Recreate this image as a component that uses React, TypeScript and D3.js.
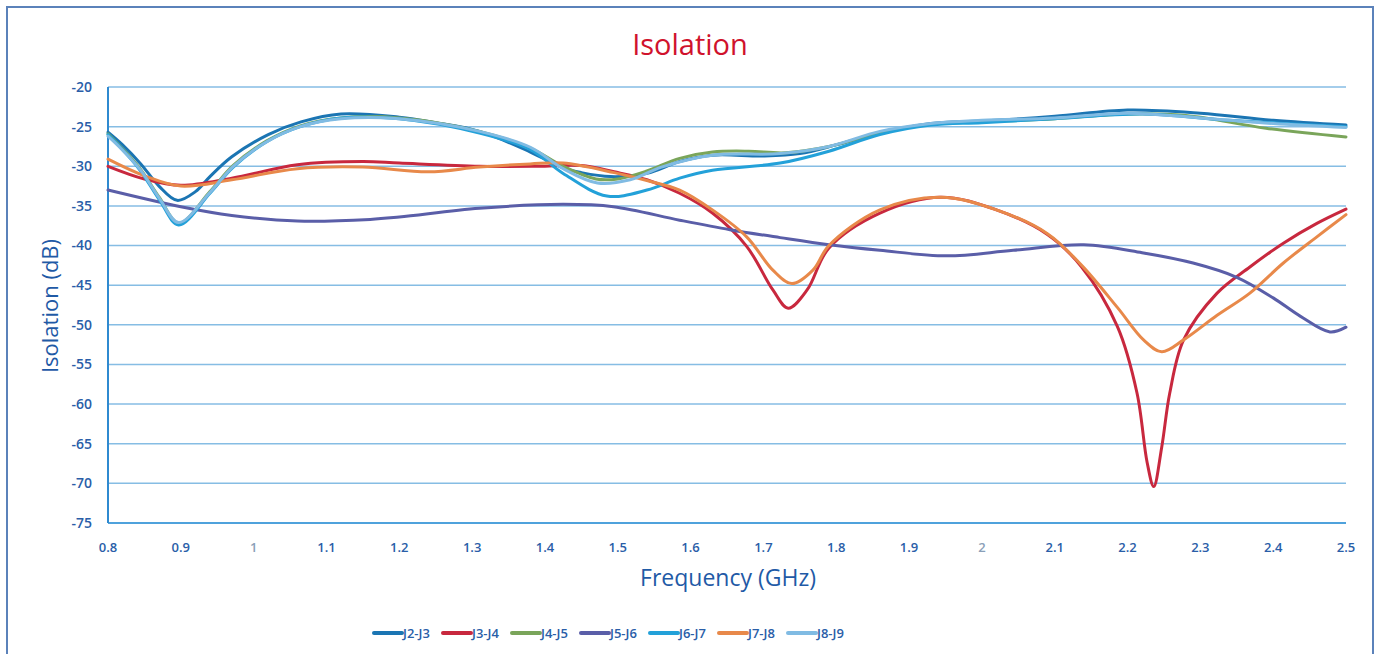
import React, { useEffect } from "react";
import * as d3 from "d3";

type Pt = [number, number];

const seriesNames = ["J2-J3", "J3-J4", "J4-J5", "J5-J6", "J6-J7", "J7-J8", "J8-J9"];
const seriesColors = ["#1b75b3", "#c8283e", "#7aa55a", "#5a5ea8", "#23a1d9", "#e8894a", "#80bbe3"];

const xTicks = [0.8, 0.9, 1, 1.1, 1.2, 1.3, 1.4, 1.5, 1.6, 1.7, 1.8, 1.9, 2, 2.1, 2.2, 2.3, 2.4, 2.5];
const yTicks = [-20, -25, -30, -35, -40, -45, -50, -55, -60, -65, -70, -75];

const J2J3: Pt[] = [
  [0.8, -25.7], [0.82, -27.3], [0.845, -29.7], [0.87, -32.5], [0.895, -34.3], [0.92, -33.2],
  [0.94, -31.3], [0.97, -28.8], [1.02, -26.0], [1.065, -24.4], [1.12, -23.4], [1.2, -23.8],
  [1.25, -24.5], [1.31, -25.6], [1.38, -28.2], [1.425, -30.2], [1.45, -30.8], [1.49, -31.3],
  [1.54, -30.9], [1.585, -29.4], [1.63, -28.6], [1.7, -28.7], [1.75, -28.4], [1.8, -27.3],
  [1.86, -25.8], [1.93, -24.6], [2.0, -24.3], [2.1, -23.7], [2.2, -22.9], [2.3, -23.3],
  [2.4, -24.2], [2.5, -24.8],
];
const J3J4: Pt[] = [
  [0.8, -30.0], [0.85, -31.6], [0.9, -32.4], [0.97, -31.5], [1.06, -29.8], [1.15, -29.4],
  [1.2, -29.6], [1.31, -30.0], [1.39, -30.0], [1.45, -29.9], [1.495, -30.7], [1.54, -31.7],
  [1.585, -33.4], [1.63, -35.9], [1.677, -40.1], [1.713, -45.6], [1.734, -47.9], [1.76, -45.6],
  [1.79, -40.3], [1.86, -35.9], [1.943, -33.9], [2.02, -35.5], [2.09, -38.6], [2.137, -42.7],
  [2.186, -50.2], [2.213, -58.6], [2.227, -67.4], [2.236, -70.4], [2.247, -65.4], [2.258, -58.6],
  [2.277, -51.9], [2.323, -46.0], [2.368, -42.7], [2.414, -39.7], [2.46, -37.2], [2.5, -35.4],
];
const J4J5: Pt[] = [
  [0.8, -25.9], [0.816, -27.4], [0.844, -30.3], [0.871, -34.0], [0.897, -37.2], [0.94, -33.2],
  [0.972, -29.9], [1.018, -26.8], [1.064, -24.9], [1.12, -23.9], [1.2, -23.9], [1.31, -25.6],
  [1.38, -27.7], [1.425, -30.0], [1.47, -31.6], [1.5, -31.6], [1.54, -30.6], [1.585, -29.0],
  [1.63, -28.2], [1.68, -28.1], [1.73, -28.3], [1.79, -27.5], [1.86, -25.8], [1.93, -24.7],
  [2.0, -24.4], [2.1, -24.0], [2.2, -23.4], [2.28, -23.6], [2.39, -25.2], [2.5, -26.3],
];
const J5J6: Pt[] = [
  [0.8, -33.0], [0.9, -35.1], [0.97, -36.2], [1.06, -36.9], [1.16, -36.7], [1.2, -36.4],
  [1.31, -35.3], [1.425, -34.8], [1.494, -35.1], [1.585, -36.8], [1.654, -38.0], [1.723, -39.0],
  [1.79, -39.9], [1.86, -40.6], [1.952, -41.3], [2.043, -40.6], [2.14, -39.9], [2.22, -40.9],
  [2.29, -42.2], [2.35, -44.0], [2.4, -46.6], [2.437, -48.9], [2.478, -50.9], [2.5, -50.3],
];
const J6J7: Pt[] = [
  [0.8, -26.0], [0.816, -27.5], [0.844, -30.5], [0.871, -34.3], [0.897, -37.4], [0.94, -33.4],
  [0.972, -30.1], [1.018, -26.9], [1.064, -25.0], [1.12, -23.9], [1.2, -24.0], [1.31, -25.8],
  [1.38, -27.9], [1.425, -30.9], [1.485, -33.75], [1.54, -33.0], [1.585, -31.5], [1.63, -30.5],
  [1.723, -29.6], [1.79, -28.1], [1.86, -26.0], [1.93, -24.8], [2.0, -24.5], [2.1, -24.0],
  [2.22, -23.4], [2.34, -24.2], [2.5, -25.0],
];
const J7J8: Pt[] = [
  [0.8, -29.1], [0.85, -31.2], [0.9, -32.5], [0.97, -31.7], [1.06, -30.3], [1.15, -30.1],
  [1.24, -30.7], [1.31, -30.1], [1.38, -29.7], [1.425, -29.6], [1.495, -30.8], [1.54, -31.8],
  [1.585, -33.0], [1.63, -35.5], [1.677, -38.9], [1.713, -43.1], [1.739, -44.8], [1.768, -43.1],
  [1.79, -40.0], [1.86, -35.5], [1.943, -33.9], [2.02, -35.5], [2.09, -38.5], [2.137, -42.5],
  [2.186, -47.8], [2.222, -51.9], [2.247, -53.4], [2.277, -51.9], [2.323, -48.8], [2.368, -46.0],
  [2.414, -42.2], [2.46, -38.9], [2.5, -36.1],
];
const J8J9: Pt[] = [
  [0.8, -26.2], [0.816, -27.6], [0.844, -30.4], [0.871, -34.1], [0.897, -37.1], [0.94, -33.3],
  [0.972, -30.0], [1.018, -26.9], [1.064, -25.0], [1.12, -24.0], [1.2, -24.0], [1.31, -25.6],
  [1.38, -27.6], [1.425, -30.3], [1.472, -32.1], [1.517, -31.7], [1.56, -30.1], [1.63, -28.6],
  [1.723, -28.4], [1.79, -27.5], [1.86, -25.6], [1.93, -24.6], [2.0, -24.2], [2.1, -23.9],
  [2.2, -23.3], [2.3, -23.9], [2.4, -24.6], [2.5, -25.1],
];

const seriesData = [J2J3, J3J4, J4J5, J5J6, J6J7, J7J8, J8J9];

const W = 1379;
const H = 654;
const FONT = "'Open Sans', 'Noto Sans', sans-serif";
const BLUE_TEXT = "#2a5ea8";

export default function App() {
  useEffect(() => {
    document.body.style.margin = "0";
  }, []);

  const x = d3.scaleLinear().domain([0.8, 2.5]).range([108, 1346]);
  const y = d3.scaleLinear().domain([-75, -20]).range([523, 87]);
  const line = d3
    .line<Pt>()
    .x((d) => x(d[0]))
    .y((d) => y(d[1]))
    .curve(d3.curveCatmullRom.alpha(0.5));

  const legendX0 = 373;
  const legendStep = 69;

  return (
    <svg width={W} height={H} style={{ display: "block", background: "#fff" }}>
      <rect x={7} y={7} width={1366} height={665} fill="#fff" stroke="#5b82ba" strokeWidth={2} />
      <text x={690} y={55} textAnchor="middle" fontFamily={FONT} fontSize={29} fill="#d0122c">
        Isolation
      </text>
      {yTicks.map((t) =>
        t === -75 ? null : (
          <line key={"g" + t} x1={x(0.8)} x2={x(2.5)} y1={y(t)} y2={y(t)} stroke="#86bde4" strokeWidth={1.5} />
        )
      )}
      <line x1={x(0.8)} x2={x(2.5)} y1={y(-75)} y2={y(-75)} stroke="#4fa2dc" strokeWidth={2} />
      <line x1={x(0.8)} x2={x(0.8)} y1={y(-20)} y2={y(-75)} stroke="#2f8ad0" strokeWidth={2} />
      {yTicks.map((t) => (
        <text key={"yt" + t} x={92} y={y(t)} dy="0.35em" textAnchor="end" fontFamily={FONT} fontWeight={600} fontSize={14} fill={BLUE_TEXT}>
          {t}
        </text>
      ))}
      {xTicks.map((t) => (
        <text
          key={"xt" + t}
          x={x(t)}
          y={547}
          dy="0.35em"
          textAnchor="middle"
          fontFamily={FONT}
          fontWeight={600}
          fontSize={13}
          fill={Number.isInteger(t) ? "#8a9fb8" : BLUE_TEXT}
        >
          {String(t)}
        </text>
      ))}
      <text x={728} y={578} dy="0.35em" textAnchor="middle" fontFamily={FONT} fontSize={23} fill="#1f5aa6">
        Frequency (GHz)
      </text>
      <text
        transform={`translate(50,306) rotate(-90)`}
        dy="0.35em"
        textAnchor="middle"
        fontFamily={FONT}
        fontSize={22}
        fill="#1f5aa6"
      >
        Isolation (dB)
      </text>
      {seriesData.map((d, i) => (
        <path key={seriesNames[i]} d={line(d) || ""} fill="none" stroke={seriesColors[i]} strokeWidth={3} strokeLinejoin="round" strokeLinecap="round" />
      ))}
      {seriesNames.map((n, i) => (
        <g key={"lg" + n} transform={`translate(${legendX0 + i * legendStep},633)`}>
          <line x1={1} x2={29} y1={0} y2={0} stroke={seriesColors[i]} strokeWidth={4} strokeLinecap="round" />
          <text x={30} y={0} dy="0.35em" fontFamily={FONT} fontWeight={600} fontSize={13} fill={BLUE_TEXT}>
            {n}
          </text>
        </g>
      ))}
    </svg>
  );
}
